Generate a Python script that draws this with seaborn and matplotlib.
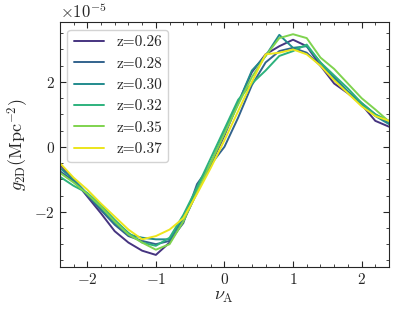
import numpy as np
import pandas as pd
import seaborn as sns
import matplotlib.pyplot as plt
from matplotlib import cm
from matplotlib.ticker import MultipleLocator

# nu_A grid and g_2D values (units of 1e-5 Mpc^-2)
nu_a = [-2.4, -2.2, -2.0, -1.8, -1.6, -1.4, -1.2, -1.0, -0.8, -0.6, -0.4, -0.2, 0.0,
        0.2, 0.4, 0.6, 0.8, 1.0, 1.2, 1.4, 1.6, 1.8, 2.0, 2.2, 2.4]

g_z026 = [-0.55, -1.0, -1.53, -2.05, -2.6, -2.95, -3.2, -3.33, -2.95, -2.3, -1.4, -0.55, 0.35,
          1.35, 2.3, 2.85, 3.1, 3.3, 3.1, 2.5, 1.95, 1.65, 1.3, 0.8, 0.62]
g_z028 = [-0.75, -1.05, -1.5, -1.95, -2.4, -2.75, -2.9, -3.0, -2.9, -2.35, -1.15, -0.55, 0.0,
          0.9, 1.9, 2.6, 2.95, 3.05, 2.9, 2.5, 2.15, 1.7, 1.35, 1.0, 0.75]
g_z030 = [-0.65, -1.0, -1.45, -1.9, -2.35, -2.7, -2.8, -2.85, -2.85, -2.2, -1.35, -0.5, 0.45,
          1.35, 2.35, 2.8, 3.45, 3.05, 3.1, 2.6, 2.1, 1.7, 1.3, 0.95, 0.7]
g_z032 = [-0.92, -1.2, -1.42, -1.8, -2.25, -2.65, -2.95, -3.05, -2.8, -2.1, -1.25, -0.35, 0.55,
          1.45, 1.95, 2.35, 2.8, 2.95, 3.15, 2.6, 2.2, 1.8, 1.35, 1.0, 0.8]
g_z035 = [-0.8, -1.1, -1.45, -1.85, -2.3, -2.7, -2.95, -3.17, -3.0, -2.3, -1.4, -0.5, 0.4,
          1.3, 2.15, 2.8, 3.35, 3.47, 3.35, 2.75, 2.4, 1.95, 1.5, 1.15, 0.78]
g_z037 = [-0.5, -0.95, -1.32, -1.75, -2.15, -2.55, -2.85, -2.75, -2.55, -2.2, -1.45, -0.65, 0.2,
          1.1, 2.0, 2.85, 2.9, 3.0, 2.85, 2.5, 2.05, 1.65, 1.25, 0.95, 0.8]

z_labels = ["z=0.26", "z=0.28", "z=0.30", "z=0.32", "z=0.35", "z=0.37"]
series = [g_z026, g_z028, g_z030, g_z032, g_z035, g_z037]

df = pd.concat(
    [pd.DataFrame({"nu": nu_a, "g": np.array(s) * 1e-5, "z": lab}) for lab, s in zip(z_labels, series)],
    ignore_index=True,
)

sns.set_style("ticks")
plt.rcParams.update({
    "font.family": "serif",
    "font.serif": ["cmr10", "DejaVu Serif"],
    "mathtext.fontset": "cm",
    "axes.formatter.use_mathtext": True,
    "axes.unicode_minus": True,
    "font.size": 11,
    "xtick.direction": "in",
    "ytick.direction": "in",
    "xtick.top": True,
    "ytick.right": True,
})

colors = [cm.viridis(v) for v in np.linspace(0.15, 0.97, 6)]

fig, ax = plt.subplots(figsize=(3.99, 3.17), dpi=100)
fig.subplots_adjust(left=0.150, right=0.975, top=0.931, bottom=0.158)

sns.lineplot(data=df, x="nu", y="g", hue="z", palette=colors, linewidth=1.4, ax=ax)

ax.set_xlim(-2.4, 2.4)
ax.set_ylim(-3.7e-5, 3.85e-5)
ax.xaxis.set_major_locator(MultipleLocator(1))
ax.xaxis.set_minor_locator(MultipleLocator(0.2))
ax.yaxis.set_major_locator(MultipleLocator(2e-5))
ax.yaxis.set_minor_locator(MultipleLocator(0.5e-5))
ax.tick_params(which="both", direction="in", top=True, right=True, labelsize=11)
ax.tick_params(which="major", length=4)
ax.tick_params(which="minor", length=2)
ax.yaxis.get_offset_text().set_fontsize(12)

ax.set_xlabel(r"$\nu_{\rm A}$", fontsize=13, labelpad=2)
ax.set_ylabel(r"$g_{\rm 2D}({\rm Mpc}^{-2})$", fontsize=13, labelpad=2)

ax.legend(loc="upper left", fontsize=11, frameon=True, fancybox=True, framealpha=0.85, edgecolor="#cccccc")

fig.savefig("out.png", dpi=100)
